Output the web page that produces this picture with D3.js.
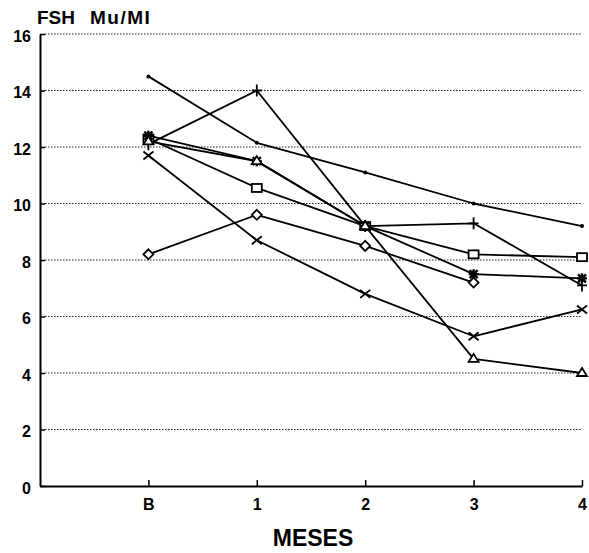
<!DOCTYPE html>
<html>
<head>
<meta charset="utf-8">
<script src="https://cdn.jsdelivr.net/npm/d3@7"></script>
<style>
  html, body { margin: 0; padding: 0; background: #fff; }
  svg { display: block; font-family: "Liberation Sans", Arial, sans-serif; }
</style>
</head>
<body>
<svg id="chart" width="589" height="553"></svg>
<script>
// Months after baseline (B)
const categories = ["B", "1", "2", "3", "4"];
const yTicks = [0, 2, 4, 6, 8, 10, 12, 14, 16];

// FSH (mU/ml) per patient; null = not measured
const seriesDot      = [14.5, 12.15, 11.1, 10.0, 9.2];
const seriesPlus     = [12.1, 14.0, 9.2, 9.3, 7.1];
const seriesSquare   = [12.3, 10.55, 9.2, 8.2, 8.1];
const seriesStar     = [12.4, 11.5, 9.2, 7.5, 7.35];
const seriesTriangle = [12.2, 11.5, 9.2, 4.5, 4.0];
const seriesCross    = [11.7, 8.7, 6.8, 5.3, 6.25];
const seriesDiamond  = [8.2, 9.6, 8.5, 7.2, null];

const series = [
  { values: seriesDot, marker: "dot" },
  { values: seriesPlus, marker: "plus" },
  { values: seriesSquare, marker: "square" },
  { values: seriesStar, marker: "star" },
  { values: seriesTriangle, marker: "triangle" },
  { values: seriesCross, marker: "cross" },
  { values: seriesDiamond, marker: "diamond" }
];

const svg = d3.select("#chart");
const x = d3.scaleLinear().domain([0, categories.length]).range([40, 582]);
const y = d3.scaleLinear().domain([0, 16]).range([486, 34]);
const xi = i => x(i + 1);

// dotted horizontal grid
svg.append("g")
  .selectAll("line")
  .data(yTicks.filter(t => t > 0))
  .join("line")
  .attr("x1", x(0) + 5).attr("x2", x(categories.length))
  .attr("y1", d => y(d)).attr("y2", d => y(d))
  .attr("stroke", "#222")
  .attr("stroke-width", 1)
  .attr("stroke-dasharray", "1.5,1.5");

// y axis
const yAxis = svg.append("g")
  .attr("transform", `translate(${x(0)},0)`)
  .call(d3.axisLeft(y).tickValues(yTicks).tickFormat(d3.format("d"))
    .tickSize(-5).tickSizeOuter(0).tickPadding(9));
yAxis.select(".domain").attr("stroke", "#000").attr("stroke-width", 2);
yAxis.selectAll(".tick line").attr("stroke", "#000").attr("stroke-width", 1.5);
yAxis.selectAll(".tick text")
  .attr("font-family", "'Liberation Sans', Arial, sans-serif")
  .attr("font-size", 16).attr("font-weight", "bold").attr("fill", "#000")
  .attr("dy", "0.45em");

// x axis
const xAxis = svg.append("g")
  .attr("transform", `translate(0,${y(0)})`)
  .call(d3.axisBottom(x).tickValues(categories.map((c, i) => i + 1))
    .tickFormat(i => categories[i - 1])
    .tickSize(-6).tickSizeOuter(0).tickPadding(13));
xAxis.select(".domain").attr("stroke", "#000").attr("stroke-width", 2);
xAxis.selectAll(".tick line").attr("stroke", "#000").attr("stroke-width", 1.5);
xAxis.selectAll(".tick text")
  .attr("font-family", "'Liberation Sans', Arial, sans-serif")
  .attr("font-size", 16).attr("font-weight", "bold").attr("fill", "#000");

// lines
const line = d3.line()
  .defined(d => d.v != null)
  .x(d => xi(d.i))
  .y(d => y(d.v));

series.forEach(s => {
  const pts = s.values.map((v, i) => ({ v, i }));
  svg.append("path")
    .datum(pts)
    .attr("d", line)
    .attr("fill", "none")
    .attr("stroke", "#000")
    .attr("stroke-width", 1.8)
    .attr("stroke-linejoin", "round");
});

// markers
function drawMarker(g, type, cx, cy) {
  const st = { stroke: "#000", "stroke-width": 1.8, fill: "none" };
  const apply = sel => { Object.entries(st).forEach(([k, v]) => sel.attr(k, v)); return sel; };
  if (type === "dot") {
    g.append("circle").attr("cx", cx).attr("cy", cy).attr("r", 2).attr("fill", "#000");
  } else if (type === "square") {
    apply(g.append("rect")).attr("x", cx - 5).attr("y", cy - 4).attr("width", 10).attr("height", 8).attr("fill", "#fff");
  } else if (type === "plus") {
    apply(g.append("path")).attr("d", `M${cx - 5},${cy}H${cx + 5}M${cx},${cy - 6}V${cy + 6}`);
  } else if (type === "cross") {
    apply(g.append("path")).attr("d", `M${cx - 5},${cy - 4}L${cx + 5},${cy + 4}M${cx - 5},${cy + 4}L${cx + 5},${cy - 4}`);
  } else if (type === "star") {
    apply(g.append("path")).attr("stroke-width", 2.4)
      .attr("d", `M${cx - 5},${cy}H${cx + 5}M${cx},${cy - 5}V${cy + 5}M${cx - 4},${cy - 4}L${cx + 4},${cy + 4}M${cx - 4},${cy + 4}L${cx + 4},${cy - 4}`);
  } else if (type === "triangle") {
    apply(g.append("path")).attr("fill", "#fff").attr("d", `M${cx},${cy - 5}L${cx + 5},${cy + 3}L${cx - 5},${cy + 3}Z`);
  } else if (type === "diamond") {
    apply(g.append("path")).attr("fill", "#fff").attr("d", `M${cx},${cy - 5}L${cx + 5},${cy}L${cx},${cy + 5}L${cx - 5},${cy}Z`);
  }
}

series.forEach(s => {
  const g = svg.append("g");
  s.values.forEach((v, i) => {
    if (v != null) drawMarker(g, s.marker, xi(i), y(v));
  });
});

// titles
const title = svg.append("text")
  .attr("x", 37).attr("y", 24)
  .attr("font-size", 19).attr("font-weight", "bold").attr("fill", "#000");
title.append("tspan").text("FSH");
title.append("tspan").attr("x", 90).attr("letter-spacing", 1.5).text("Mu/MI");

svg.append("text")
  .attr("x", (x(0) + x(categories.length)) / 2 + 2)
  .attr("y", 546)
  .attr("text-anchor", "middle")
  .attr("font-size", 23).attr("font-weight", "bold").attr("fill", "#000")
  .text("MESES");
</script>
</body>
</html>
